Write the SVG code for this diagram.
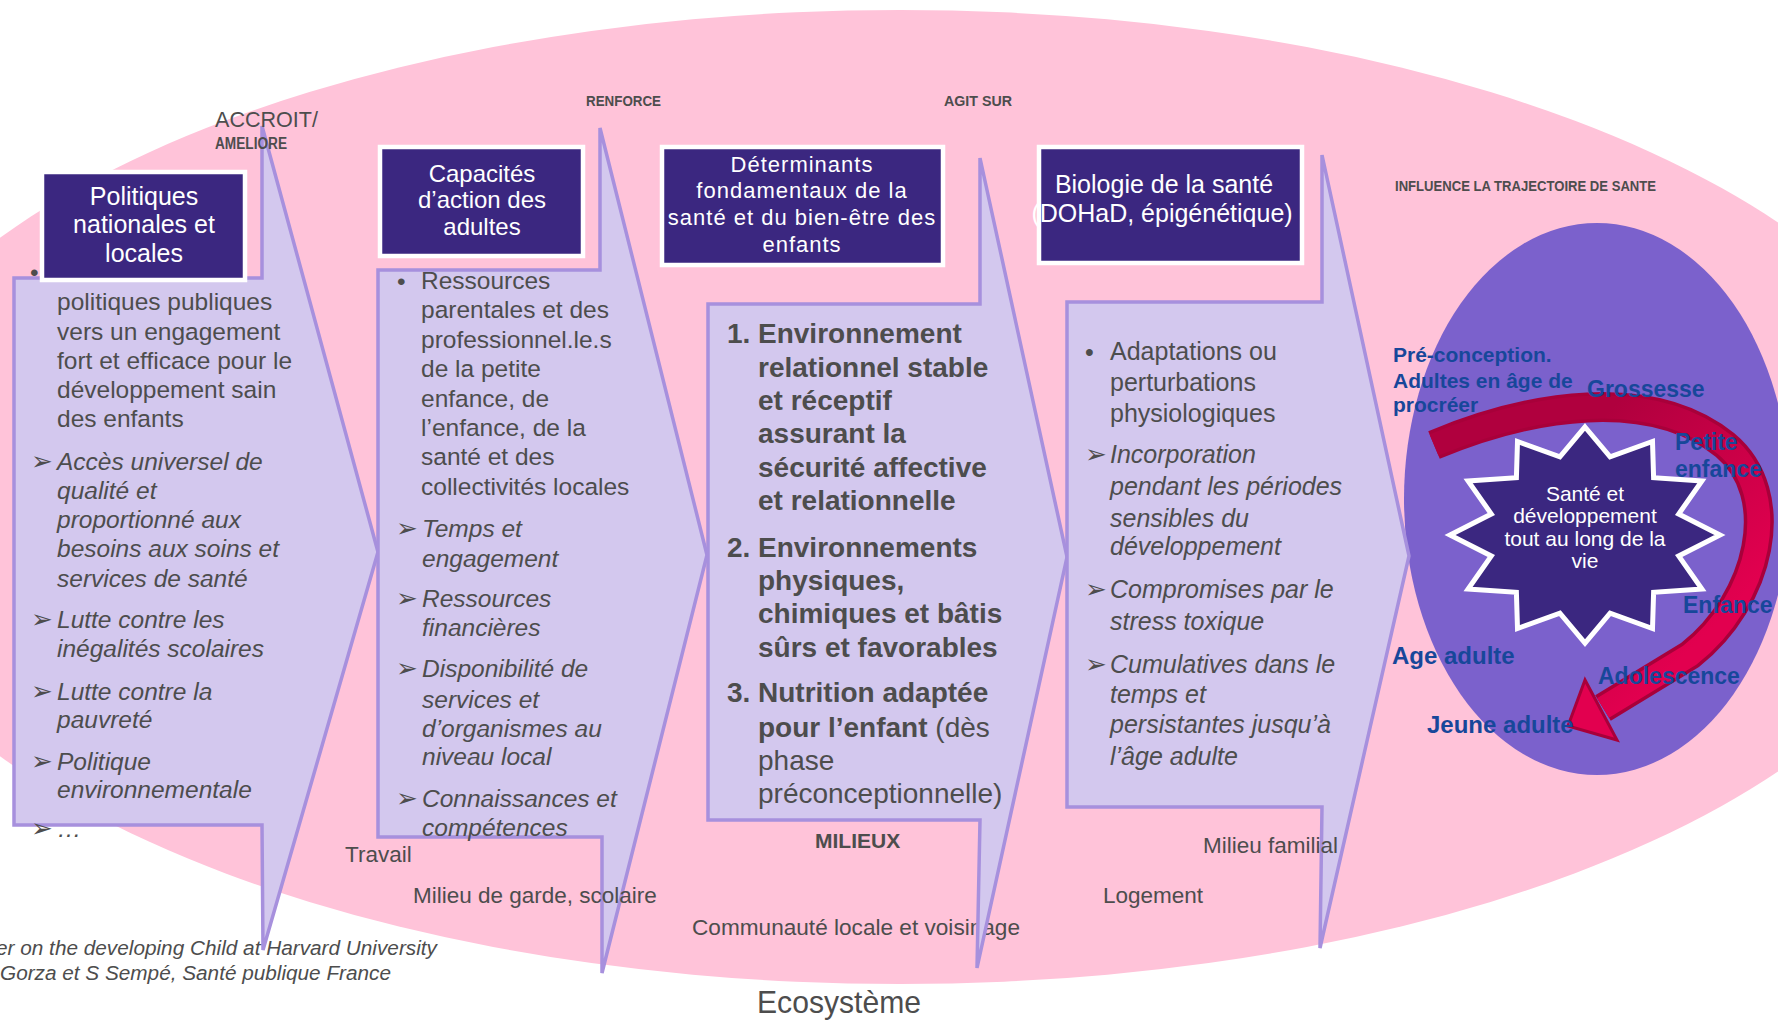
<svg xmlns="http://www.w3.org/2000/svg" width="1778" height="1021" viewBox="0 0 1778 1021">
<style>
.t{font-family:"Liberation Sans",Arial,sans-serif;fill:#4d4d4d}
.r{font-size:24.5px}
.i{font-style:italic}
.s4{font-size:25px}
.bd{font-size:28px;font-weight:bold}
.env{font-size:22.5px}
.lab{font-weight:bold}
.chev{fill:#d3c8ee;stroke:#a790dd;stroke-width:3.5;stroke-linejoin:miter}
.box{fill:#3b2780;stroke:#fff;stroke-width:4.5}
.bt{font-family:"Liberation Sans",Arial,sans-serif;fill:#fff;text-anchor:middle}
.blue{font-family:"Liberation Sans",Arial,sans-serif;fill:#17479a;font-weight:bold}
.ar{font-family:"DejaVu Sans",sans-serif;font-size:26px;fill:#4d4d4d}
</style>
<defs>
<linearGradient id="redg" gradientUnits="userSpaceOnUse" x1="1600" y1="420" x2="1760" y2="580">
<stop offset="0" stop-color="#b0003e"/>
<stop offset="1" stop-color="#e2004f"/>
</linearGradient>
</defs>

<g id="background">
<ellipse cx="900" cy="497" rx="1063" ry="487" fill="#ffc3d9"/>
<ellipse cx="1597" cy="499" rx="193" ry="276" fill="#7b61cc"/>
<text class="t" x="692" y="935" font-size="22.5px" textLength="328" lengthAdjust="spacingAndGlyphs">Communauté locale et voisinage</text>
</g>

<g id="node-politiques">
<polygon class="chev" points="14,278 262,278 262,126 378,552 263,950 262,825 14,825"/>
<text class="t r" x="30" y="281">•</text>
<text class="t r" x="57" y="310">politiques publiques</text>
<text class="t r" x="57" y="340">vers un engagement</text>
<text class="t r" x="57" y="369">fort et efficace pour le</text>
<text class="t r" x="57" y="398">développement sain</text>
<text class="t r" x="57" y="427">des enfants</text>
<text class="ar" x="31" y="470">➢</text>
<text class="ar" x="31" y="628">➢</text>
<text class="ar" x="31" y="700">➢</text>
<text class="ar" x="31" y="770">➢</text>
<text class="ar" x="31" y="837">➢</text>
<text class="t r i" x="57" y="470">Accès universel de</text>
<text class="t r i" x="57" y="499">qualité et</text>
<text class="t r i" x="57" y="528">proportionné aux</text>
<text class="t r i" x="57" y="557">besoins aux soins et</text>
<text class="t r i" x="57" y="587">services de santé</text>
<text class="t r i" x="57" y="628">Lutte contre les</text>
<text class="t r i" x="57" y="657">inégalités scolaires</text>
<text class="t r i" x="57" y="700">Lutte contre la</text>
<text class="t r i" x="57" y="728">pauvreté</text>
<text class="t r i" x="57" y="770">Politique</text>
<text class="t r i" x="57" y="798">environnementale</text>
<text class="t r i" x="57" y="837">…</text>
<rect class="box" x="42" y="172" width="203" height="108"/>
<text class="bt" x="144" y="205" font-size="25px">Politiques</text>
<text class="bt" x="144" y="233" font-size="25px">nationales et</text>
<text class="bt" x="144" y="262" font-size="25px">locales</text>
</g>

<g id="node-capacites">
<polygon class="chev" points="378,270 600,270 600,128 707,555 602,973 602,837 378,837"/>
<text class="t r" x="397" y="290">•</text>
<text class="t r" x="421" y="289">Ressources</text>
<text class="t r" x="421" y="318">parentales et des</text>
<text class="t r" x="421" y="348">professionnel.le.s</text>
<text class="t r" x="421" y="377">de la petite</text>
<text class="t r" x="421" y="407">enfance, de</text>
<text class="t r" x="421" y="436">l’enfance, de la</text>
<text class="t r" x="421" y="465">santé et des</text>
<text class="t r" x="421" y="495">collectivités locales</text>
<text class="ar" x="396" y="537">➢</text>
<text class="ar" x="396" y="607">➢</text>
<text class="ar" x="396" y="677">➢</text>
<text class="ar" x="396" y="807">➢</text>
<text class="t r i" x="422" y="537">Temps et</text>
<text class="t r i" x="422" y="567">engagement</text>
<text class="t r i" x="422" y="607">Ressources</text>
<text class="t r i" x="422" y="636">financières</text>
<text class="t r i" x="422" y="677">Disponibilité de</text>
<text class="t r i" x="422" y="708">services et</text>
<text class="t r i" x="422" y="737">d’organismes au</text>
<text class="t r i" x="422" y="765">niveau local</text>
<text class="t r i" x="422" y="807">Connaissances et</text>
<text class="t r i" x="422" y="836">compétences</text>
<rect class="box" x="380" y="147" width="203" height="109"/>
<text class="bt" x="482" y="182" font-size="24px">Capacités</text>
<text class="bt" x="482" y="208" font-size="24px">d’action des</text>
<text class="bt" x="482" y="235" font-size="24px">adultes</text>
</g>

<g id="node-determinants">
<polygon class="chev" points="708,304 980,304 980,158 1067,557 977,968 980,820 708,820"/>
<text class="t bd" x="727" y="343">1.</text>
<text class="t bd" x="758" y="343">Environnement</text>
<text class="t bd" x="758" y="377">relationnel stable</text>
<text class="t bd" x="758" y="410">et réceptif</text>
<text class="t bd" x="758" y="443">assurant la</text>
<text class="t bd" x="758" y="477">sécurité affective</text>
<text class="t bd" x="758" y="510">et relationnelle</text>
<text class="t bd" x="727" y="557">2.</text>
<text class="t bd" x="758" y="557">Environnements</text>
<text class="t bd" x="758" y="590">physiques,</text>
<text class="t bd" x="758" y="623">chimiques et bâtis</text>
<text class="t bd" x="758" y="657">sûrs et favorables</text>
<text class="t bd" x="727" y="702">3.</text>
<text class="t bd" x="758" y="702">Nutrition adaptée</text>
<text class="t bd" x="758" y="737">pour l’enfant<tspan font-weight="normal"> (dès</tspan></text>
<text class="t" x="758" y="770" font-size="28px">phase</text>
<text class="t" x="758" y="803" font-size="28px">préconceptionnelle)</text>
<rect class="box" x="662" y="147" width="281" height="118"/>
<text class="bt" x="802" y="172" font-size="22px" letter-spacing="1">Déterminants</text>
<text class="bt" x="802" y="198" font-size="22px" letter-spacing="1">fondamentaux de la</text>
<text class="bt" x="802" y="225" font-size="22px" letter-spacing="1">santé et du bien-être des</text>
<text class="bt" x="802" y="252" font-size="22px" letter-spacing="1">enfants</text>
</g>

<g id="node-biologie">
<polygon class="chev" points="1067,302 1322,302 1322,155 1409,556 1320,948 1322,807 1067,807"/>
<text class="t s4" x="1085" y="361">•</text>
<text class="t s4" x="1110" y="360">Adaptations ou</text>
<text class="t s4" x="1110" y="391">perturbations</text>
<text class="t s4" x="1110" y="422">physiologiques</text>
<text class="ar" x="1085" y="463">➢</text>
<text class="ar" x="1085" y="598">➢</text>
<text class="ar" x="1085" y="673">➢</text>
<text class="t s4 i" x="1110" y="463">Incorporation</text>
<text class="t s4 i" x="1110" y="495">pendant les périodes</text>
<text class="t s4 i" x="1110" y="527">sensibles du</text>
<text class="t s4 i" x="1110" y="555">développement</text>
<text class="t s4 i" x="1110" y="598">Compromises par le</text>
<text class="t s4 i" x="1110" y="630">stress toxique</text>
<text class="t s4 i" x="1110" y="673">Cumulatives dans le</text>
<text class="t s4 i" x="1110" y="703">temps et</text>
<text class="t s4 i" x="1110" y="733">persistantes jusqu’à</text>
<text class="t s4 i" x="1110" y="765">l’âge adulte</text>
<rect class="box" x="1039" y="147" width="263" height="116"/>
<text class="bt" x="1164" y="193" font-size="25px">Biologie de la santé</text>
<text class="bt" x="1162" y="222" font-size="25px">(DOHaD, épigénétique)</text>
</g>

<g id="milieux">
<text class="t env" x="345" y="862">Travail</text>
<text class="t env" x="413" y="903">Milieu de garde, scolaire</text>
<text class="t env" x="1203" y="853">Milieu familial</text>
<text class="t env" x="1103" y="903">Logement</text>
<text class="t lab" x="815" y="848" font-size="21px">MILIEUX</text>
</g>

<g id="labels">
<text class="t" x="215" y="127" font-size="22px" textLength="103" lengthAdjust="spacingAndGlyphs">ACCROIT/</text>
<text class="t lab" x="215" y="149" font-size="16px" textLength="72" lengthAdjust="spacingAndGlyphs">AMELIORE</text>
<text class="t lab" x="586" y="106" font-size="14px" textLength="75" lengthAdjust="spacingAndGlyphs">RENFORCE</text>
<text class="t lab" x="944" y="106" font-size="14px" textLength="68" lengthAdjust="spacingAndGlyphs">AGIT SUR</text>
<text class="t lab" x="1395" y="191" font-size="15px" textLength="261" lengthAdjust="spacingAndGlyphs">INFLUENCE LA TRAJECTOIRE DE SANTE</text>
</g>

<g id="connectors">
<path d="M1434,445 C1530,405 1650,385 1725,445 C1785,495 1760,600 1690,655 L1603,708" fill="none" stroke="#a8003a" stroke-width="30"/>
<path d="M1434,445 C1530,405 1650,385 1725,445 C1785,495 1760,600 1690,655 L1603,708" fill="none" stroke="url(#redg)" stroke-width="23"/>
<polygon points="1585,680 1568,726 1617,740" fill="#e2004f" stroke="#a8003a" stroke-width="3" stroke-linejoin="miter"/>
</g>

<g id="node-sante">
<polygon points="1585,427 1610.1,456.8 1652.5,441.5 1653.6,477.7 1701.9,481 1678.7,514 1720,535 1678.7,556 1701.9,589 1653.6,592.3 1652.5,628.5 1610.1,613.2 1585,643 1559.9,613.2 1517.5,628.5 1516.4,592.3 1468.1,589 1491.3,556 1450,535 1491.3,514 1468.1,481 1516.4,477.7 1517.5,441.5 1559.9,456.8" fill="#3b2780" stroke="#fff" stroke-width="5"/>
<text class="bt" x="1585" y="501" font-size="21px">Santé et</text>
<text class="bt" x="1585" y="523" font-size="21px">développement</text>
<text class="bt" x="1585" y="546" font-size="21px">tout au long de la</text>
<text class="bt" x="1585" y="568" font-size="21px">vie</text>
</g>

<g id="stages">
<text class="blue" x="1393" y="362" font-size="21px">Pré-conception.</text>
<text class="blue" x="1393" y="388" font-size="21px">Adultes en âge de</text>
<text class="blue" x="1393" y="412" font-size="21px">procréer</text>
<text class="blue" x="1587" y="397" font-size="23px">Grossesse</text>
<text class="blue" x="1675" y="450" font-size="23px">Petite</text>
<text class="blue" x="1675" y="477" font-size="23px">enfance</text>
<text class="blue" x="1683" y="613" font-size="23px">Enfance</text>
<text class="blue" x="1598" y="684" font-size="23px">Adolescence</text>
<text class="blue" x="1392" y="664" font-size="24px">Age adulte</text>
<text class="blue" x="1427" y="733" font-size="24px">Jeune adulte</text>
</g>

<g id="credits">
<text class="t i" x="-4" y="955" font-size="20px" textLength="441" lengthAdjust="spacingAndGlyphs">er on the developing Child at Harvard University</text>
<text class="t i" x="0" y="980" font-size="20px" textLength="391" lengthAdjust="spacingAndGlyphs">Gorza et S Sempé, Santé publique France</text>
<text class="t" x="757" y="1013" font-size="32px" textLength="164" lengthAdjust="spacingAndGlyphs">Ecosystème</text>
</g>
</svg>
